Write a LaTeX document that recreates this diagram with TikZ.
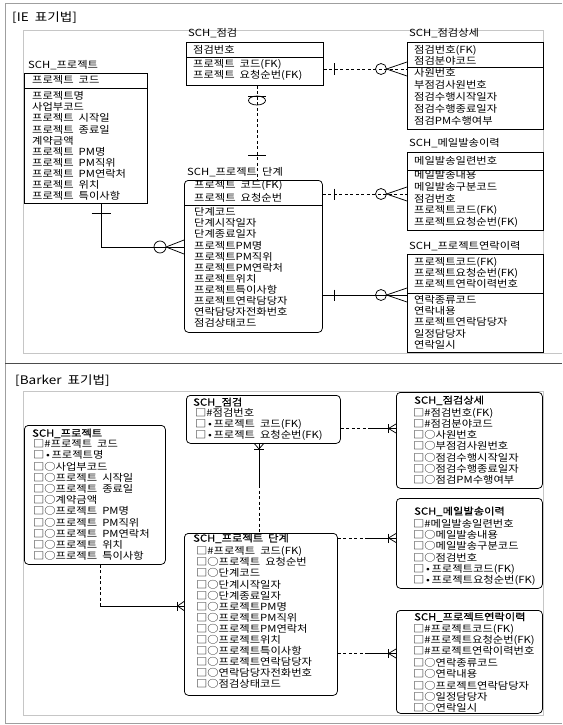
\documentclass[tikz,border=0pt]{standalone}
\usepackage{fontspec}
\setmainfont[FakeStretch=1.15,WordSpace=2]{Noto Sans CJK KR}
\newfontfamily\ttlfont[FakeStretch=1.15,WordSpace=2,FakeBold=0.5]{Noto Sans CJK KR}
\usetikzlibrary{calc}
\newcommand{\mdot}{□\,•\,}

\begin{document}
\begin{tikzpicture}[x=1pt, y=-1pt, font=\fontsize{9.8}{11}\selectfont,
  ent/.style={draw, line width=0.75pt, anchor=north west, inner sep=0pt},
  bent/.style={ent, rounded corners=4pt},
  txt/.style={anchor=base west, inner sep=0pt},
  btitle/.style={txt, font=\fontsize{9.8}{11}\ttlfont},
  ptitle/.style={txt, font=\fontsize{11.8}{14}\selectfont},
  rel/.style={line width=0.75pt},
  reldash/.style={rel, dash pattern=on 3pt off 2.5pt},
  panelline/.style={gray!75, line width=0.6pt},
  innerline/.style={gray!45, line width=0.6pt}]
\useasboundingbox (0,0) rectangle (562,725);

% frames
\draw[panelline] (562,3) -- (5,3) -- (5,723) -- (562,723);
\draw[line width=0.8pt, black!70] (5,363) -- (562,363);
\draw[innerline] (23,353) -- (23,30) -- (543,30) -- (543,353);
\draw[innerline] (23,353) -- (562,353);
\draw[innerline] (23,391) rectangle (543,715);

%%%%% IE
\node[ptitle] (ie) at (12,21.5) {[IE 표기법]};

% SCH_프로젝트
\node[txt] (pjt) at (28,68.7) {SCH\_프로젝트};
\node[ent, minimum width=123pt, minimum height=130pt] (pj) at (24,73) {};
\draw[rel] (pj.west |- 0,88) -- (pj.east |- 0,88);
\node[txt] (pjk) at (32,83.7) {프로젝트 코드};
\foreach \t [count=\i from 0] in {프로젝트명, 사업부코드, 프로젝트 시작일, 프로젝트 종료일, 계약금액, 프로젝트 PM명, 프로젝트 PM직위, 프로젝트 PM연락처, 프로젝트 위치, 프로젝트 특이사항}
  \node[txt] (pja\i) at (32,{99.7+\i*11.1}) {\t};

% SCH_점검
\node[txt] (jgt) at (188,36.7) {SCH\_점검};
\node[ent, minimum width=137pt, minimum height=43pt] (jg) at (186,42) {};
\draw[rel] (jg.west |- 0,57) -- (jg.east |- 0,57);
\node[txt] (jgk) at (193,53.7) {점검번호};
\foreach \t [count=\i from 0] in {프로젝트 코드(FK), 프로젝트 요청순번(FK)}
  \node[txt] (jga\i) at (193,{67+\i*11.7}) {\t};

% SCH_점검상세
\node[txt] (jst) at (409,36.7) {SCH\_점검상세};
\node[ent, minimum width=136pt, minimum height=87pt] (js) at (407,42) {};
\draw[rel] (js.west |- 0,67) -- (js.east |- 0,67);
\foreach \t [count=\i from 0] in {점검번호(FK), 점검분야코드}
  \node[txt] (jsk\i) at (414,{53.7+\i*11}) {\t};
\foreach \t [count=\i from 0] in {사원번호, 부점검사원번호, 점검수행시작일자, 점검수행종료일자, 점검PM수행여부}
  \node[txt] (jsa\i) at (414,{76.7+\i*12}) {\t};

% SCH_메일발송이력
\node[txt] (mlt) at (409,146.7) {SCH\_메일발송이력};
\node[ent, minimum width=136pt, minimum height=78pt] (ml) at (407,152) {};
\draw[rel] (ml.west |- 0,170) -- (ml.east |- 0,170);
\node[txt] (mlk) at (414,164.7) {메일발송일련번호};
\foreach \t [count=\i from 0] in {메일발송내용, 메일발송구분코드, 점검번호, 프로젝트코드(FK), 프로젝트요청순번(FK)}
  \node[txt] (mla\i) at (414,{178.7+\i*11.75}) {\t};

% SCH_프로젝트연락이력
\node[txt] (ylt) at (409,249.7) {SCH\_프로젝트연락이력};
\node[ent, minimum width=136pt, minimum height=98pt] (yl) at (407,254) {};
\draw[rel] (yl.west |- 0,293) -- (yl.east |- 0,293);
\foreach \t [count=\i from 0] in {프로젝트코드(FK), 프로젝트요청순번(FK), 프로젝트연락이력번호}
  \node[txt] (ylk\i) at (414,{265.7+\i*11}) {\t};
\foreach \t [count=\i from 0] in {연락종류코드, 연락내용, 프로젝트연락담당자, 일정담당자, 연락일시}
  \node[txt] (yla\i) at (414,{303.7+\i*11.1}) {\t};

% SCH_프로젝트 단계
\draw[reldash] (257,0 |- jg.south) -- (257,180);
\node[txt] (dgt) at (187,175.3) {SCH\_프로젝트 단계};
\node[ent, rounded corners=4pt, minimum width=138pt, minimum height=152pt] (dg) at (184,180) {};
\draw[rel] (dg.west |- 0,205) -- (dg.east |- 0,205);
\foreach \t [count=\i from 0] in {프로젝트 코드(FK), 프로젝트 요청순번}
  \node[txt] (dgk\i) at (194,{188.7+\i*13}) {\t};
\foreach \t [count=\i from 0] in {단계코드, 단계시작일자, 단계종료일자, 프로젝트PM명, 프로젝트PM직위, 프로젝트PM연락처, 프로젝트위치, 프로젝트특이사항, 프로젝트연락담당자, 연락담당자전화번호, 점검상태코드}
  \node[txt] (dga\i) at (194,{215.7+\i*11.1}) {\t};

% IE relations
\draw[rel] (248,96) -- (266,96);
\draw[rel] (257,100.5) ellipse (8.5 and 4.5);
\draw[rel] (248,155) -- (266,155);

\foreach \yy/\a/\b/\st in {69/jg/js/reldash, 194/dg/ml/reldash, 295/dg/yl/rel} {
  \draw[\st] (\a.east |- 0,\yy) -- (\b.west |- 0,\yy);
  \draw[rel] (334,{\yy-5.5}) -- (334,{\yy+5.5});
  \draw[rel] (381,\yy) circle (5.5);
  \draw[rel] (386.5,\yy) -- (\b.west |- 0,{\yy-7}) (386.5,\yy) -- (\b.west |- 0,{\yy+7});
}

\coordinate (pjc) at (101,247);
\draw[rel] (101,0 |- pj.south) -- (pjc) -- (dg.west |- pjc);
\draw[rel] (91.5,213) -- (110.5,213);
\draw[rel] (160,247) circle (6);
\draw[rel] (166,247) -- (184,240) (166,247) -- (184,254);

%%%%% Barker
\node[ptitle] (bk) at (15,384.5) {[Barker 표기법]};

% SCH_점검
\node[bent, minimum width=154pt, minimum height=48pt] (bjg) at (186,395) {};
\node[btitle] (bjgt) at (193,405.7) {SCH\_점검};
\foreach \t [count=\i from 0] in {□\#점검번호, \mdot 프로젝트 코드(FK), \mdot 프로젝트 요청순번(FK)}
  \node[txt] (bjga\i) at (195,{416.7+\i*11}) {\t};

% SCH_점검상세
\node[bent, minimum width=146pt, minimum height=96pt] (bjs) at (396,392) {};
\node[btitle] (bjst) at (414,403.7) {SCH\_점검상세};
\foreach \t [count=\i from 0] in {□\#점검번호(FK), □\#점검분야코드, □○사원번호, □○부점검사원번호, □○점검수행시작일자, □○점검수행종료일자, □○점검PM수행여부}
  \node[txt] (bjsa\i) at (413,{416+\i*11.3}) {\t};

% SCH_메일발송이력
\node[bent, minimum width=146pt, minimum height=90pt] (bml) at (396,498) {};
\node[btitle] (bmlt) at (414,514.7) {SCH\_메일발송이력};
\foreach \t [count=\i from 0] in {□\#메일발송일련번호, □○메일발송내용, □○메일발송구분코드, □○점검번호, \mdot 프로젝트코드(FK), \mdot 프로젝트요청순번(FK)}
  \node[txt] (bmla\i) at (413,{527.7+\i*11.1}) {\t};

% SCH_프로젝트연락이력
\node[bent, minimum width=146pt, minimum height=103pt] (byl) at (396,610) {};
\node[btitle] (bylt) at (414,620.4) {SCH\_프로젝트연락이력};
\foreach \t [count=\i from 0] in {□\#프로젝트코드(FK), □\#프로젝트요청순번(FK), □\#프로젝트연락이력번호, □○연락종류코드, □○연락내용, □○프로젝트연락담당자, □○일정담당자, □○연락일시}
  \node[txt] (byla\i) at (413,{632+\i*11.4}) {\t};

% SCH_프로젝트
\node[bent, minimum width=141pt, minimum height=139pt] (bpj) at (24,425) {};
\node[btitle] (bpjt) at (32,436.7) {SCH\_프로젝트};
\foreach \t [count=\i from 0] in {□\#프로젝트 코드, \mdot 프로젝트명, □○사업부코드, □○프로젝트 시작일, □○프로젝트 종료일, □○계약금액, □○프로젝트 PM명, □○프로젝트 PM직위, □○프로젝트 PM연락처, □○프로젝트 위치, □○프로젝트 특이사항}
  \node[txt] (bpja\i) at (33,{447.7+\i*11.2}) {\t};

% SCH_프로젝트 단계
\node[bent, minimum width=153pt, minimum height=162pt] (bdg) at (184,533) {};
\node[btitle] (bdgt) at (193,541.7) {SCH\_프로젝트 단계};
\foreach \t [count=\i from 0] in {□\#프로젝트 코드(FK), □○프로젝트 요청순번, □○단계코드, □○단계시작일자, □○단계종료일자, □○프로젝트PM명, □○프로젝트PM직위, □○프로젝트PM연락처, □○프로젝트위치, □○프로젝트특이사항, □○프로젝트연락담당자, □○연락담당자전화번호, □○점검상태코드}
  \node[txt] (bdga\i) at (196,{554.7+\i*11.1}) {\t};

% Barker relations
\foreach \yy/\a/\b in {428.5/bjg/bjs, 538/bdg/bml, 653.5/bdg/byl} {
  \draw[reldash] (\a.east |- 0,\yy) -- (368,\yy);
  \draw[rel] (368,\yy) -- (\b.west |- 0,\yy);
  \draw[rel] (388,{\yy-4.5}) -- (388,{\yy+4.5});
  \draw[rel] (388.5,\yy) -- (\b.west |- 0,{\yy-4.5}) (388.5,\yy) -- (\b.west |- 0,{\yy+4.5});
}

\coordinate (bpc) at (100,606);
\draw[reldash] (100,0 |- bpj.south) -- (bpc);
\draw[rel] (bpc) -- (bdg.west |- bpc);
\draw[rel] (177,601.5) -- (177,610.5);
\draw[rel] (177.5,606) -- (bdg.west |- 0,601.5) (177.5,606) -- (bdg.west |- 0,610.5);

\coordinate (bjc) at (259,485);
\draw[rel] (259,0 |- bjg.south) -- (bjc);
\draw[reldash] (bjc) -- (259,0 |- bdg.north);
\draw[rel] (254,449.5) -- (264,449.5);
\draw[rel] (259,449) -- (254.5,0 |- bjg.south) (259,449) -- (263.5,0 |- bjg.south);
\end{tikzpicture}
\end{document}
